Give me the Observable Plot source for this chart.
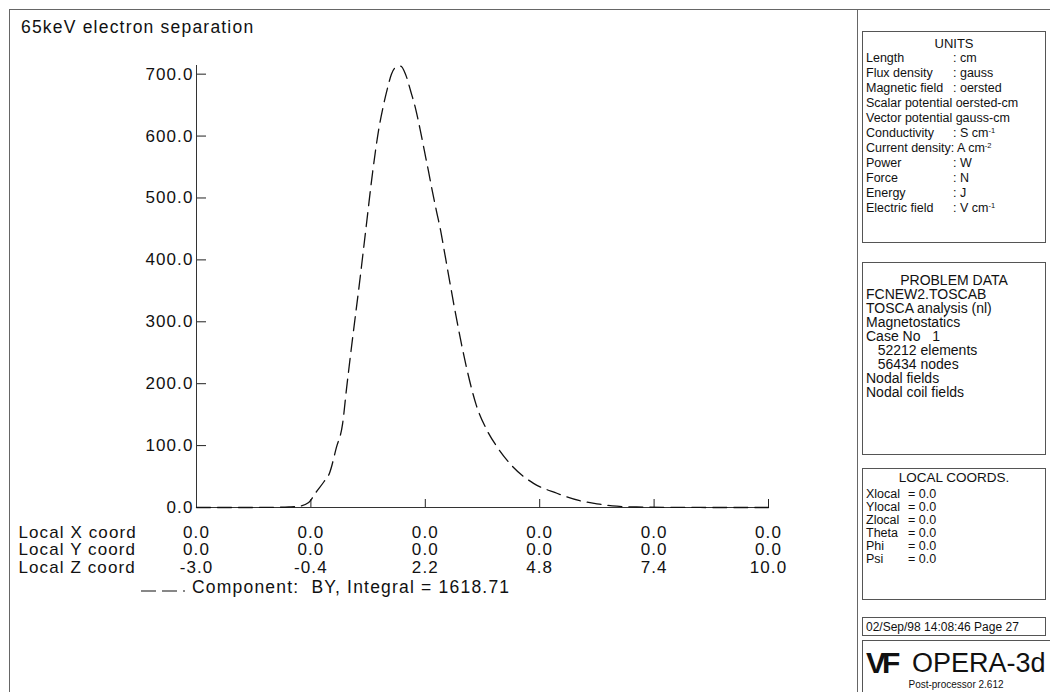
<!DOCTYPE html>
<html>
<head>
<meta charset="utf-8">
<script src="https://cdn.jsdelivr.net/npm/d3@7"></script>
<script src="https://cdn.jsdelivr.net/npm/@observablehq/plot@0.6"></script>
<style>
  html, body { margin: 0; padding: 0; background: #fff; }
  #page { position: relative; width: 1050px; height: 692px; overflow: hidden; font-family: "Liberation Sans", Arial, sans-serif; color: #111; }
  #page svg.plot text { letter-spacing: 1.1px; }
  .abs { position: absolute; white-space: pre; line-height: 1; }
  .box { position: absolute; border: 1px solid #555; box-sizing: border-box; }
  .line { position: absolute; background: #666; }
  sup { font-size: 60%; vertical-align: 0.5em; line-height: 0; }
</style>
</head>
<body>
<div id="page"></div>
<script>
// ---- data ----
const zLocal = [-3.0, -2.0, -1.2, -0.9, -0.7, -0.45, -0.3, -0.1, 0.02, 0.18, 0.32, 0.41, 0.55, 0.7, 0.85,
  1.0, 1.14, 1.25, 1.34, 1.43, 1.55, 1.64, 1.75, 1.87, 1.98, 2.09, 2.18, 2.27, 2.36, 2.45,
  2.55, 2.63, 2.70, 2.78, 2.95, 3.14, 3.36, 3.6, 3.84, 4.2, 4.66, 5.19, 5.71, 6.1, 6.45, 7.0, 8.0, 9.0, 10.0];
const byValues = [0, 0, 0.3, 0.8, 1.6, 8, 23, 42, 55, 97, 135, 192, 275, 360, 450,
  540, 610, 650, 677, 700, 712, 713, 700, 672, 644, 608, 576, 544, 511, 480,
  447, 415, 387, 355, 290, 225, 165, 125, 97, 65, 39, 23, 11, 6, 2.5, 0.8, 0.2, 0, 0];
const yTicks = [0, 100, 200, 300, 400, 500, 600, 700];
const zTicks = [-3.0, -0.4, 2.2, 4.8, 7.4, 10.0];
const xCoordLabels = ["0.0", "0.0", "0.0", "0.0", "0.0", "0.0"];
const yCoordLabels = ["0.0", "0.0", "0.0", "0.0", "0.0", "0.0"];
const zCoordLabels = ["-3.0", "-0.4", "2.2", "4.8", "7.4", "10.0"];
const rowLabels = ["Local X coord", "Local Y coord", "Local Z coord"];
const title = "65keV electron separation";
const legendText = "Component:  BY, Integral = 1618.71";
const unitsRows = [["Length", ": cm"], ["Flux density", ": gauss"], ["Magnetic field", ": oersted"],
  ["Scalar potential oersted-cm", ""], ["Vector potential gauss-cm", ""], ["Conductivity", ": S cm<sup>-1</sup>"],
  ["Current density: A cm<sup>-2</sup>", ""], ["Power", ": W"], ["Force", ": N"], ["Energy", ": J"],
  ["Electric field", ": V cm<sup>-1</sup>"]];
const problemRows = ["FCNEW2.TOSCAB", "TOSCA analysis (nl)", "Magnetostatics", "Case No   1",
  "   52212 elements", "   56434 nodes", "Nodal fields", "Nodal coil fields"];
const coordRows = [["Xlocal", "= 0.0"], ["Ylocal", "= 0.0"], ["Zlocal", "= 0.0"], ["Theta", "= 0.0"], ["Phi", "= 0.0"], ["Psi", "= 0.0"]];
const dateText = "02/Sep/98 14:08:46 Page 27";

const curve = zLocal.map((z, i) => ({z, v: byValues[i]}));
const fmt = d3.format(".1f");

const rowOffsets = [25, 42, 60];
const rowTexts = [xCoordLabels, yCoordLabels, zCoordLabels];
const tableMarks = [];
rowTexts.forEach((labels, r) => {
  tableMarks.push(Plot.text(zTicks, {x: d => d, text: (d, i) => labels[i], frameAnchor: "bottom", dy: rowOffsets[r], lineAnchor: "middle", textAnchor: "middle", fill: "#111"}));
  tableMarks.push(Plot.text([rowLabels[r]], {text: d => d, frameAnchor: "bottom-left", dx: -178, dy: rowOffsets[r], lineAnchor: "middle", textAnchor: "start", fill: "#111"}));
});

const chart = Plot.plot({
  width: 1050,
  height: 692,
  marginLeft: 196,
  marginRight: 282,
  marginTop: 65,
  marginBottom: 185,
  style: {fontFamily: "'Liberation Sans', Arial, sans-serif", fontSize: "17px", background: "transparent", color: "#111"},
  x: {domain: [-3, 10]},
  y: {domain: [0, 714]},
  marks: [
    Plot.axisY({ticks: yTicks, tickFormat: fmt, tickSize: -10, tickPadding: 13, label: null, stroke: "#222"}),
    Plot.axisX({ticks: zTicks.slice(1), tickSize: -8, tickFormat: () => "", label: null, stroke: "#222"}),
    Plot.ruleX([-3], {y1: 0, y2: 714, stroke: "#333"}),
    Plot.ruleY([0], {stroke: "#333"}),
    Plot.line(curve, {x: "z", y: "v", stroke: "#111", strokeWidth: 1.3, strokeDasharray: "14,7", curve: "monotone-x"}),
    ...tableMarks
  ]
});
chart.classList.add("plot");
chart.style.position = "absolute";
chart.style.left = "0px";
chart.style.top = "0px";

const page = document.getElementById("page");
page.appendChild(chart);

function addText(txt, left, cy, size, extra = {}) {
  const d = document.createElement("div");
  d.className = "abs";
  d.innerHTML = txt;
  d.style.left = left + "px";
  d.style.top = (cy - size / 2) + "px";
  d.style.fontSize = size + "px";
  Object.assign(d.style, extra);
  page.appendChild(d);
  return d;
}
function addBox(l, t, w, h) {
  const b = document.createElement("div");
  b.className = "box";
  Object.assign(b.style, {left: l + "px", top: t + "px", width: w + "px", height: h + "px"});
  page.appendChild(b);
}
function addLine(l, t, w, h) {
  const b = document.createElement("div");
  b.className = "line";
  Object.assign(b.style, {left: l + "px", top: t + "px", width: w + "px", height: h + "px"});
  page.appendChild(b);
}

// outer frame and divider
addLine(9, 9, 1041, 1);
addLine(9, 9, 1, 683);
addLine(857, 9, 1, 683);

// title
addText(title, 21, 28, 17.5, {letterSpacing: "1.2px"});

// legend
const leg = document.createElementNS("http://www.w3.org/2000/svg", "svg");
leg.setAttribute("width", 50); leg.setAttribute("height", 10);
Object.assign(leg.style, {position: "absolute", left: "141px", top: "585px"});
leg.innerHTML = '<line x1="0" y1="6" x2="48" y2="6" stroke="#111" stroke-width="1.2" stroke-dasharray="15,6,15,6,2,6"/>';
page.appendChild(leg);
addText(legendText, 192, 588, 17.5, {letterSpacing: "1.2px"});

// UNITS box
addBox(862, 31, 184, 212);
addText("UNITS", 862, 43, 13, {width: "184px", textAlign: "center"});
unitsRows.forEach((r, i) => {
  const cy = 58 + i * 15;
  addText(r[0], 866, cy, 12.5);
  if (r[1]) addText(r[1], 953, cy, 12.5);
});

// PROBLEM DATA box
addBox(862, 262, 184, 193);
addText("PROBLEM DATA", 862, 280, 14, {width: "184px", textAlign: "center"});
problemRows.forEach((r, i) => addText(r, 866, 294 + i * 14, 14));

// LOCAL COORDS box
addBox(862, 468, 184, 132);
addText("LOCAL COORDS.", 862, 478, 13.5, {width: "184px", textAlign: "center"});
coordRows.forEach((r, i) => {
  const cy = 494 + i * 13;
  addText(r[0], 866, cy, 12.5);
  addText(r[1], 908, cy, 12.5);
});

// date box
addBox(862, 617, 184, 19);
addText(dateText, 866, 627, 12);

// OPERA logo box
addBox(862, 640, 192, 60);
addText("<b>VF</b>", 866, 663, 30, {letterSpacing: "-4px"});
addText("OPERA-3d", 912, 663, 27);
addText("Post-processor 2.612", 862, 685, 10, {width: "188px", textAlign: "center"});
</script>
</body>
</html>
